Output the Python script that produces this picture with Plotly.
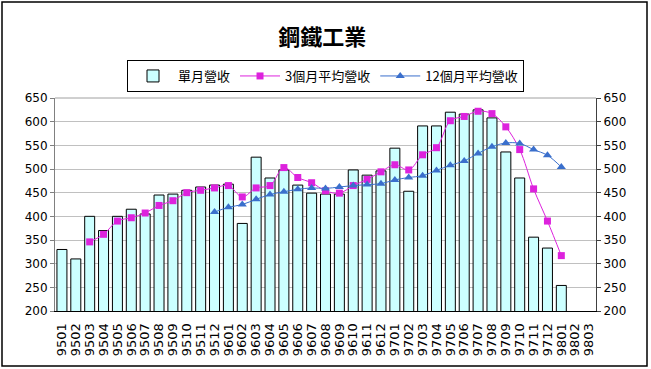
import plotly.graph_objects as go

categories = [f"95{m:02d}" for m in range(1, 13)] + [f"96{m:02d}" for m in range(1, 13)] + \
             [f"97{m:02d}" for m in range(1, 13)] + ["9801", "9802", "9803"]

monthly = [330, 310, 400, 370, 400, 415, 405, 445, 447, 455, 462, 466,
           468, 385, 525, 481, 498, 466, 449, 447, 447, 498, 487, 496,
           544, 453, 591, 591, 620, 616, 625, 608, 536, 481, 356, 333,
           254]

avg3 = [None, None, 346, 362, 390, 397, 407, 423, 433, 450, 455, 460,
        465, 441, 460, 465, 503, 482, 471, 454, 449, 465, 478, 494,
        509, 498, 530, 545, 602, 611, 622, 617, 589, 541, 458, 390,
        317]

avg12 = [None] * 11 + [409,
         419, 425, 436, 446, 452, 457, 460, 459, 462, 465, 467, 469,
         477, 482, 486, 497, 508, 517, 533, 547, 555, 554, 541, 529,
         504]

x_bars = categories[:len(monthly)]

fig = go.Figure()
fig.add_trace(go.Bar(
    x=x_bars, y=monthly, name="單月營收",
    marker=dict(color="#CCFFFF", line=dict(color="#000000", width=1)),
))
fig.add_trace(go.Scatter(
    x=x_bars, y=avg3, name="3個月平均營收", mode="lines+markers",
    line=dict(color="#DD22DD", width=1, shape="spline"),
    marker=dict(symbol="square", size=7, color="#DD22DD"),
))
fig.add_trace(go.Scatter(
    x=x_bars, y=avg12, name="12個月平均營收", mode="lines+markers",
    line=dict(color="#3A6FCC", width=1, shape="spline"),
    marker=dict(symbol="triangle-up", size=8, color="#3A6FCC"),
    yaxis="y2",
))

L, R, T, B = 55, 55, 98, 58
PW, PH = 651 - L - R, 369 - T - B

tickfont = dict(family="DejaVu Sans", size=12, color="#000000")
fig.update_layout(
    width=651, height=369,
    margin=dict(l=L, r=R, t=T, b=B, autoexpand=False),
    paper_bgcolor="white", plot_bgcolor="white",
    bargap=0.28,
    showlegend=True,
    title=dict(text="<b>鋼鐵工業</b>", x=0.495, xanchor="center", y=1 - 37 / 369, yanchor="middle",
               yref="container", font=dict(family="Noto Sans CJK TC", size=22, color="#000000")),
    legend=dict(orientation="h", x=0.5, xanchor="center", xref="container",
                y=1 - 60 / 369, yanchor="top", yref="container",
                bordercolor="#000000", borderwidth=1, bgcolor="white",
                font=dict(family="Noto Sans CJK TC", size=13, color="#000000"),
                tracegroupgap=0, itemwidth=40),
    xaxis=dict(type="category", categoryorder="array", categoryarray=categories,
               range=[-0.5, len(categories) - 0.5], tickangle=-90,
               tickmode="array", tickvals=categories, ticktext=categories,
               tickfont=dict(family="DejaVu Sans", size=13, color="#000000"),
               ticklabelstandoff=6,
               showline=True, linecolor="#000000", linewidth=1, ticks="",
               showgrid=False),
    yaxis=dict(range=[200, 650], dtick=50, tickfont=tickfont,
               showgrid=True, gridcolor="#C0C0C0", gridwidth=1,
               showline=True, linecolor="#808080", ticks="outside", ticklen=4,
               tickcolor="#808080", zeroline=False),
    yaxis2=dict(range=[200, 650], dtick=50, tickfont=tickfont, overlaying="y",
                side="right", showgrid=False, showline=True, linecolor="#404040",
                ticks="outside", ticklen=4, tickcolor="#404040", zeroline=False),
)
# top grid edge
fig.add_shape(type="line", xref="paper", yref="paper", x0=0, x1=1, y0=1, y1=1,
              line=dict(color="#A0A0A0", width=1))
# outer border
fig.add_shape(type="rect", xref="paper", yref="paper",
              x0=-(L - 2) / PW, x1=1 + (R - 4) / PW, y0=-(B - 3) / PH, y1=1 + (T - 2) / PH,
              line=dict(color="#000000", width=1.5), layer="below")

fig.write_html("out.html", config={"displayModeBar": False},
               post_script="document.body.style.margin='0';")
